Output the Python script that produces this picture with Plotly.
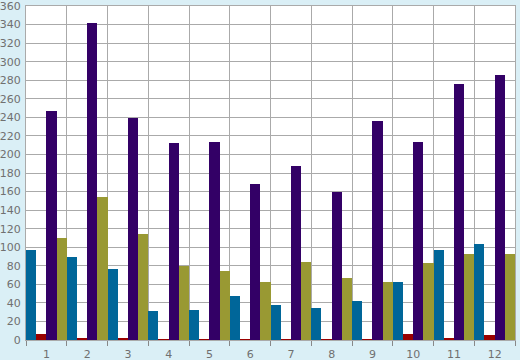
import plotly.graph_objects as go

categories = [str(i) for i in range(1, 13)]
series_blue = [97, 90, 76, 31, 32, 47, 38, 35, 42, 62, 97, 103]
series_red = [6.5, 1.5, 1.5, 0.6, 0.6, 0.6, 0.6, 0.6, 0.6, 6.5, 1.5, 5.5]
series_purple = [247, 342, 239, 212, 213, 168, 188, 159, 236, 213, 276, 286]
series_olive = [110, 154, 114, 80, 74, 62, 84, 67, 63, 83, 93, 93]
y_ticks = list(range(0, 361, 20))

x = list(range(1, len(categories) + 1))
colors = ["#006699", "#990000", "#330066", "#999933"]
fig = go.Figure()
for name, vals, c in zip(["A", "B", "C", "D"],
                         [series_blue, series_red, series_purple, series_olive], colors):
    fig.add_trace(go.Bar(x=x, y=vals, name=name, marker=dict(color=c, line=dict(width=0))))

grid = "#aaaaaa"
fig.update_layout(
    width=520, height=360,
    margin=dict(l=26, r=5, t=6, b=20),
    paper_bgcolor="#daeff6", plot_bgcolor="#ffffff",
    barmode="group", bargap=0, bargroupgap=0,
    showlegend=False,
    font=dict(family="DejaVu Sans", size=11, color="#707070"),
)
fig.update_xaxes(
    range=[0.5, 12.5], tickvals=x, ticktext=categories,
    showgrid=False, ticks="", ticklen=0, automargin=False,
    ticklabelstandoff=4, ticklabeloverflow="allow",
    showline=True, linecolor=grid, linewidth=1, mirror=True,
    minor=dict(tick0=0.5, dtick=1, showgrid=True, gridcolor=grid, gridwidth=1,
               ticks="outside", ticklen=5, tickcolor="#888888", tickwidth=1),
    zeroline=False,
)
fig.update_yaxes(
    range=[0, 360], tickvals=y_ticks, showgrid=True, gridcolor=grid, gridwidth=1,
    showline=True, linecolor=grid, linewidth=1, mirror=True, automargin=False,
    ticks="", ticklabelstandoff=2, ticklabeloverflow="allow", zeroline=False,
)
fig.write_html(
    "out.html",
    config={"displayModeBar": False},
    post_script="document.body.style.margin='0';document.body.style.padding='0';"
                "document.documentElement.style.overflow='hidden';",
)
